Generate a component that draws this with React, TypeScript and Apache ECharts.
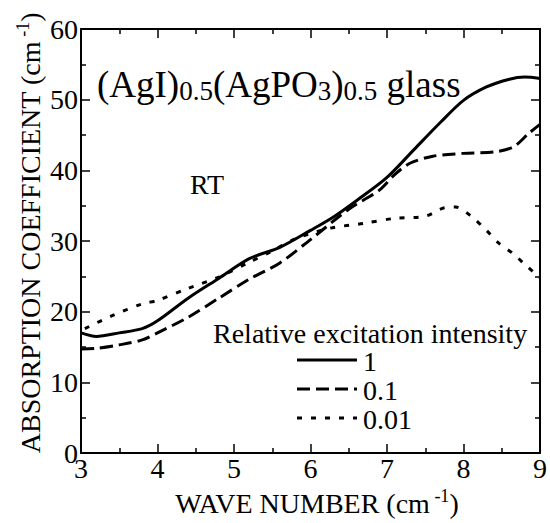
import React, { useEffect, useRef } from "react";
import * as echarts from "echarts";

// Wave number (cm^-1) vs absorption coefficient (cm^-1)
const intensity1: [number, number][] = [
  [3.0, 17.0], [3.2, 16.5], [3.5, 17.0], [3.8, 17.6], [4.0, 18.7], [4.4, 21.9],
  [4.8, 24.7], [5.2, 27.5], [5.6, 29.1], [6.0, 31.5], [6.3, 33.4], [6.6, 35.7],
  [7.0, 39.0], [7.35, 42.9], [7.7, 46.8], [8.0, 49.9], [8.3, 51.8], [8.6, 52.9],
  [8.8, 53.2], [9.0, 53.0],
];
const intensity01: [number, number][] = [
  [3.0, 14.7], [3.2, 14.8], [3.5, 15.3], [3.8, 16.0], [4.0, 17.0], [4.4, 19.2],
  [4.8, 21.9], [5.2, 24.6], [5.6, 26.9], [6.0, 30.2], [6.5, 34.5], [6.9, 37.2],
  [7.1, 39.4], [7.3, 41.0], [7.6, 42.0], [8.0, 42.4], [8.4, 42.6], [8.65, 43.3],
  [8.85, 45.2], [9.0, 46.5],
];
const intensity001: [number, number][] = [
  [3.05, 17.6], [3.4, 19.4], [3.8, 21.1], [4.0, 21.6], [4.4, 23.3], [4.8, 24.9],
  [5.2, 27.0], [5.45, 28.3], [5.8, 30.3], [6.25, 31.8], [6.7, 32.5], [7.1, 33.2],
  [7.5, 33.5], [7.75, 34.7], [7.9, 34.8], [8.1, 33.5], [8.3, 31.5], [8.45, 29.8],
  [8.65, 28.2], [8.8, 26.7], [9.0, 24.8],
];
const legendLabels = ["1", "0.1", "0.01"];
const xRange = { min: 3, max: 9, interval: 1 };
const yRange = { min: 0, max: 60, interval: 10 };

const FONT = "Liberation Serif";

export default function App() {
  const ref = useRef<HTMLDivElement>(null);
  useEffect(() => {
    const chart = echarts.init(ref.current!, null, { renderer: "svg" });
    const axisBase = {
      type: "value" as const,
      axisLine: { show: true, onZero: false, lineStyle: { color: "#000", width: 2 } },
      axisTick: { show: true, inside: true, length: 9, lineStyle: { color: "#000", width: 1.5 } },
      minorTick: { show: true, splitNumber: 2, length: 5, lineStyle: { color: "#000", width: 1.5 } },
      splitLine: { show: false },
    };
    const labelStyle = { color: "#000", fontFamily: FONT, fontSize: 28 };
    const dashes: any[] = ["solid", [13, 6], [5, 9]];
    const seriesData = [intensity1, intensity01, intensity001];
    chart.setOption({
      animation: false,
      backgroundColor: "#fff",
      textStyle: { fontFamily: FONT },
      grid: { left: 81, right: 5, top: 29, bottom: 70, containLabel: false },
      xAxis: [
        { ...axisBase, ...xRange, position: "bottom", axisLabel: { ...labelStyle, margin: 1 } },
        { ...axisBase, ...xRange, position: "top", axisLabel: { show: false } },
      ],
      yAxis: [
        { ...axisBase, ...yRange, position: "left", axisLabel: { ...labelStyle, margin: 3 } },
        { ...axisBase, ...yRange, position: "right", axisLabel: { show: false } },
      ],
      series: seriesData.map((d, i) => ({
        type: "line",
        name: legendLabels[i],
        data: d,
        xAxisIndex: 0,
        yAxisIndex: 0,
        smooth: 0.3,
        showSymbol: false,
        symbol: "none",
        lineStyle: { color: "#000", width: 3, type: dashes[i] },
      })),
      graphic: [
        {
          type: "text",
          x: 97,
          y: 64,
          style: {
            text: "{m|(AgI)}{s|0.5}{m|(AgPO}{s|3}{m|)}{s|0.5}{m| glass}",
            rich: {
              m: { fontFamily: FONT, fontSize: 37, lineHeight: 40, fill: "#000" },
              s: { fontFamily: FONT, fontSize: 27, lineHeight: 20, verticalAlign: "bottom", fill: "#000" },
            },
          },
        },
        {
          type: "text",
          x: 190,
          y: 184,
          style: { text: "RT", fontFamily: FONT, fontSize: 28, fill: "#000", verticalAlign: "middle" },
        },
        {
          type: "text",
          x: 30,
          y: 233,
          rotation: Math.PI / 2,
          style: {
            text: "{m|ABSORPTION COEFFICIENT (cm}{s| -1}{m|)}",
            align: "center",
            verticalAlign: "middle",
            rich: {
              m: { fontFamily: FONT, fontSize: 28, lineHeight: 32, fill: "#000" },
              s: { fontFamily: FONT, fontSize: 18, lineHeight: 18, verticalAlign: "top", fill: "#000" },
            },
          },
        },
        {
          type: "text",
          x: 317,
          y: 503,
          style: {
            text: "{m|WAVE NUMBER (cm}{s| -1}{m|)}",
            align: "center",
            verticalAlign: "middle",
            rich: {
              m: { fontFamily: FONT, fontSize: 28, lineHeight: 32, fill: "#000" },
              s: { fontFamily: FONT, fontSize: 18, lineHeight: 18, verticalAlign: "top", fill: "#000" },
            },
          },
        },
        {
          type: "text",
          x: 213,
          y: 333,
          style: { text: "Relative excitation intensity", fontFamily: FONT, fontSize: 28, fill: "#000", verticalAlign: "middle" },
        },
        ...legendLabels.flatMap((lab, i) => [
          {
            type: "line",
            shape: { x1: 297, y1: 360 + i * 29, x2: 357, y2: 360 + i * 29 },
            style: { stroke: "#000", lineWidth: 3, lineDash: i === 0 ? null : dashes[i] },
          },
          {
            type: "text",
            x: 363,
            y: 361 + i * 29,
            style: { text: lab, fontFamily: FONT, fontSize: 28, fill: "#000", verticalAlign: "middle" },
          },
        ]),
      ],
    });
    return () => chart.dispose();
  }, []);
  return (
    <div
      ref={ref}
      style={{ position: "fixed", left: 0, top: 0, width: 550, height: 523, background: "#fff" }}
    />
  );
}
